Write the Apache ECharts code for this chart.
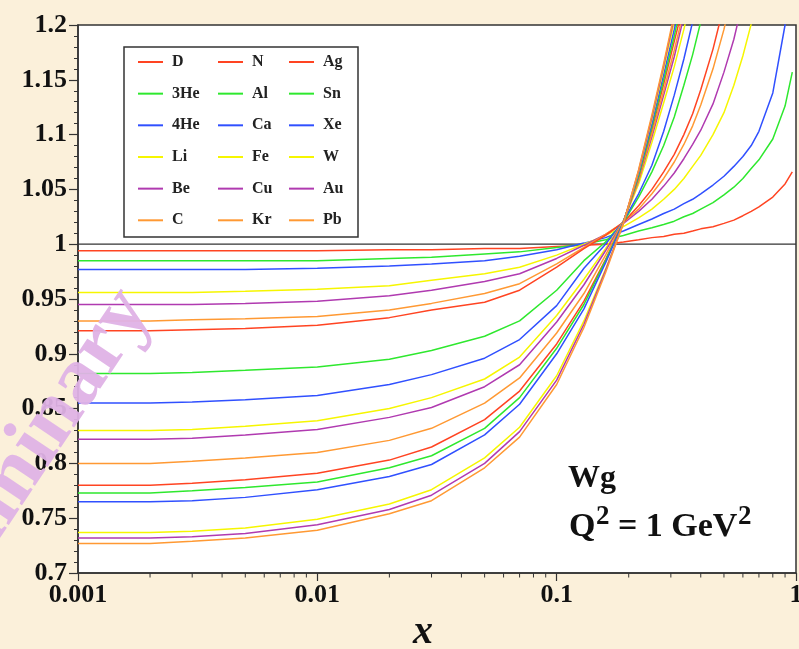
<!DOCTYPE html>
<html>
<head>
<meta charset="utf-8">
<script src="https://cdn.jsdelivr.net/npm/echarts@6/dist/echarts.min.js"></script>
<style>
html,body{margin:0;padding:0;background:#fbf0da;overflow:hidden;}
#chart{width:799px;height:649px;}
</style>
</head>
<body>
<div id="chart"></div>
<script>
// x grid (Bjorken x)
const xGrid = [0.001,0.002,0.003,0.005,0.01,0.02,0.03,0.05,0.07,0.1,0.13,0.16,0.19,0.22,0.25,0.28,0.31,0.34,0.37,0.4,0.45,0.5,0.55,0.6,0.65,0.7,0.8,0.9,0.965];

const D   = [0.994,0.994,0.994,0.994,0.994,0.995,0.995,0.996,0.996,0.998,0.999,1.000,1.002,1.004,1.006,1.007,1.009,1.010,1.012,1.014,1.016,1.019,1.022,1.026,1.030,1.034,1.043,1.055,1.066];
const He3 = [0.985,0.985,0.985,0.985,0.985,0.987,0.988,0.991,0.993,0.997,1.000,1.004,1.008,1.012,1.015,1.018,1.021,1.025,1.028,1.032,1.038,1.045,1.052,1.060,1.069,1.077,1.096,1.126,1.157];
const He4 = [0.977,0.977,0.977,0.977,0.978,0.980,0.982,0.985,0.989,0.995,1.001,1.006,1.012,1.018,1.023,1.028,1.032,1.037,1.041,1.046,1.054,1.062,1.071,1.080,1.090,1.103,1.138,1.200,1.250];
const Li  = [0.956,0.956,0.956,0.957,0.959,0.962,0.967,0.973,0.979,0.990,1.000,1.008,1.016,1.024,1.032,1.041,1.050,1.060,1.071,1.081,1.100,1.120,1.145,1.172,1.201,1.235,null,null,null];
const Be  = [0.945,0.945,0.945,0.946,0.948,0.953,0.958,0.966,0.973,0.987,0.999,1.009,1.019,1.030,1.041,1.053,1.065,1.078,1.091,1.104,1.128,1.157,1.187,1.222,null,null,null,null,null];
const C   = [0.930,0.930,0.931,0.932,0.934,0.940,0.946,0.955,0.964,0.982,0.997,1.009,1.020,1.032,1.046,1.060,1.075,1.091,1.108,1.127,1.160,1.196,1.235,null,null,null,null,null,null];
const N   = [0.921,0.921,0.922,0.923,0.926,0.933,0.940,0.947,0.958,0.979,0.996,1.008,1.020,1.035,1.050,1.066,1.082,1.100,1.119,1.141,1.178,1.218,null,null,null,null,null,null,null];
const Al  = [0.882,0.882,0.883,0.885,0.888,0.895,0.903,0.916,0.930,0.958,0.985,1.002,1.020,1.043,1.066,1.090,1.116,1.145,1.173,1.203,1.250,null,null,null,null,null,null,null,null];
const Ca  = [0.855,0.855,0.856,0.858,0.862,0.872,0.881,0.896,0.913,0.944,0.978,1.000,1.021,1.046,1.072,1.103,1.136,1.169,1.203,1.245,null,null,null,null,null,null,null,null,null];
const Fe  = [0.830,0.830,0.831,0.834,0.839,0.850,0.860,0.877,0.897,0.935,0.968,0.996,1.021,1.055,1.093,1.129,1.162,1.196,1.230,null,null,null,null,null,null,null,null,null,null];
const Cu  = [0.822,0.822,0.823,0.826,0.831,0.842,0.851,0.870,0.890,0.929,0.963,0.994,1.021,1.058,1.098,1.136,1.171,1.208,null,null,null,null,null,null,null,null,null,null,null];
const Kr  = [0.800,0.800,0.802,0.805,0.810,0.821,0.832,0.855,0.878,0.919,0.955,0.990,1.021,1.059,1.101,1.140,1.177,1.213,null,null,null,null,null,null,null,null,null,null,null];
const Ag  = [0.780,0.780,0.782,0.785,0.791,0.803,0.815,0.840,0.866,0.909,0.948,0.986,1.020,1.061,1.105,1.146,1.185,1.220,null,null,null,null,null,null,null,null,null,null,null];
const Sn  = [0.773,0.773,0.775,0.778,0.783,0.796,0.807,0.832,0.860,0.905,0.945,0.985,1.020,1.062,1.107,1.150,1.190,1.230,null,null,null,null,null,null,null,null,null,null,null];
const Xe  = [0.765,0.765,0.766,0.769,0.776,0.788,0.799,0.826,0.854,0.900,0.941,0.983,1.020,1.064,1.110,1.155,1.196,1.235,null,null,null,null,null,null,null,null,null,null,null];
const W   = [0.737,0.737,0.738,0.741,0.749,0.763,0.776,0.805,0.833,0.880,0.930,0.977,1.019,1.066,1.114,1.160,1.203,null,null,null,null,null,null,null,null,null,null,null,null];
const Au  = [0.732,0.732,0.733,0.736,0.744,0.758,0.771,0.800,0.829,0.876,0.927,0.976,1.019,1.067,1.116,1.163,1.207,null,null,null,null,null,null,null,null,null,null,null,null];
const Pb  = [0.727,0.727,0.729,0.732,0.739,0.754,0.766,0.796,0.824,0.872,0.924,0.974,1.019,1.068,1.118,1.165,1.210,null,null,null,null,null,null,null,null,null,null,null,null];

const seriesNames = ['D','3He','4He','Li','Be','C','N','Al','Ca','Fe','Cu','Kr','Ag','Sn','Xe','W','Au','Pb'];
const seriesValues = [D,He3,He4,Li,Be,C,N,Al,Ca,Fe,Cu,Kr,Ag,Sn,Xe,W,Au,Pb];
const palette = ['#ff4422','#2ee82e','#3050ff','#f6f600','#b03ab0','#ff9933'];

const legendCols = [['D','3He','4He','Li','Be','C'],['N','Al','Ca','Fe','Cu','Kr'],['Ag','Sn','Xe','W','Au','Pb']];
const xMinorTicks = [0.002,0.003,0.004,0.005,0.006,0.007,0.008,0.009,0.02,0.03,0.04,0.05,0.06,0.07,0.08,0.09,0.2,0.3,0.4,0.5,0.6,0.7,0.8,0.9];

const SERIF = '"Liberation Serif","Times New Roman",serif';

// text measuring for the Q^2 annotation layout
const mctx = document.createElement('canvas').getContext('2d');
function tw(txt, font) { mctx.font = font; return mctx.measureText(txt).width; }
const FONT_MAIN = 'bold 34px ' + SERIF;
const FONT_SUP = 'bold 27px ' + SERIF;
const qx0 = 569;
const qx1 = qx0 + tw('Q', FONT_MAIN) + 0.5;
const qx2 = qx1 + tw('2', FONT_SUP);
const qx3 = qx2 + tw(' = 1 GeV', FONT_MAIN) + 0.5;

const chart = echarts.init(document.getElementById('chart'));

const lineSeries = seriesNames.map((name, i) => {
  const pts = [];
  xGrid.forEach((x, k) => { const v = seriesValues[i][k]; if (v !== null) pts.push([x, v]); });
  return {
    name, type: 'line', data: pts, symbol: 'none', showSymbol: false,
    smooth: false, clip: true,
    color: palette[i % 6],
    itemStyle: { color: palette[i % 6] },
    lineStyle: { width: 1.5, color: palette[i % 6] },
    z: 3
  };
});

const legends = legendCols.map((col, j) => ({
  data: col, orient: 'vertical', left: [138, 218, 289][j], top: 54,
  padding: 0, icon: 'rect', itemWidth: 25, itemHeight: 2, itemGap: 15.66,
  textStyle: { fontFamily: SERIF, fontWeight: 'bold', fontSize: 16, color: '#222', padding: [0,0,0,4], lineHeight: 16 },
  selectedMode: false
}));

const option = {
  backgroundColor: '#fbf0da',
  animation: false,
  grid: { left: 78, top: 25, right: 3, bottom: 76, show: true, backgroundColor: '#ffffff', borderColor: '#333', borderWidth: 1.5, containLabel: false, outerBoundsMode: 'none' },
  legend: legends,
  xAxis: {
    type: 'log', logBase: 10, min: 0.001, max: 1,
    axisLine: { show: true, lineStyle: { color: '#333', width: 1.5 } },
    axisTick: { show: true, inside: false, length: 8, lineStyle: { color: '#333', width: 1.2 } },
    splitLine: { show: false },
    axisLabel: { fontFamily: SERIF, fontWeight: 'bold', fontSize: 26, color: '#111', margin: 9,
      formatter: v => String(v) }
  },
  yAxis: {
    type: 'value', min: 0.7, max: 1.2, interval: 0.05,
    axisLine: { show: true, lineStyle: { color: '#333', width: 1.5 } },
    axisTick: { show: true, inside: false, length: 9, lineStyle: { color: '#333', width: 1.2 } },
    minorTick: { show: true, splitNumber: 5, length: 4, lineStyle: { color: '#333', width: 1 } },
    splitLine: { show: false },
    axisLabel: { fontFamily: SERIF, fontWeight: 'bold', fontSize: 26, color: '#111', margin: 11 }
  },
  graphic: [
    { type: 'rect', shape: { x: 124, y: 47, width: 234, height: 190 }, style: { fill: '#fff', stroke: '#333', lineWidth: 1.5 }, z: 1 },
    { type: 'text', x: 568, y: 463, style: { text: 'Wg', font: 'bold 32px ' + SERIF, fill: '#111', verticalAlign: 'top' }, z: 10 },
    { type: 'text', x: qx0, y: 510, style: { text: 'Q', font: FONT_MAIN, fill: '#111', verticalAlign: 'top' }, z: 10 },
    { type: 'text', x: qx1, y: 504, style: { text: '2', font: FONT_SUP, fill: '#111', verticalAlign: 'top' }, z: 10 },
    { type: 'text', x: qx2, y: 510, style: { text: ' = 1 GeV', font: FONT_MAIN, fill: '#111', verticalAlign: 'top' }, z: 10 },
    { type: 'text', x: qx3, y: 504, style: { text: '2', font: FONT_SUP, fill: '#111', verticalAlign: 'top' }, z: 10 },
    { type: 'text', x: 423, y: 613, style: { text: 'x', font: 'italic bold 40px ' + SERIF, fill: '#111', align: 'center', verticalAlign: 'top' }, z: 10 },
    { type: 'text', x: 170, y: 321, rotation: 0.98, style: { text: 'Preliminary', font: 'bold 84px ' + SERIF, fill: '#dfb2e6', align: 'right', verticalAlign: 'bottom', opacity: 0.95 }, z: 100 }
  ],
  series: lineSeries.concat([
    {
      type: 'line', name: 'unity', data: [[0.001, 1], [1, 1]], symbol: 'none',
      lineStyle: { color: '#333', width: 1.2 }, z: 2, silent: true
    },
    {
      type: 'custom', name: 'minorTicksX', data: xMinorTicks.map(v => [v, 0.7]), clip: false, silent: true,
      renderItem: (params, api) => {
        const p = api.coord([api.value(0), api.value(1)]);
        return { type: 'line', shape: { x1: p[0], y1: p[1], x2: p[0], y2: p[1] + 4.5 }, style: { stroke: '#333', lineWidth: 1 } };
      }, z: 5
    }
  ])
};
chart.setOption(option);
</script>
</body>
</html>
